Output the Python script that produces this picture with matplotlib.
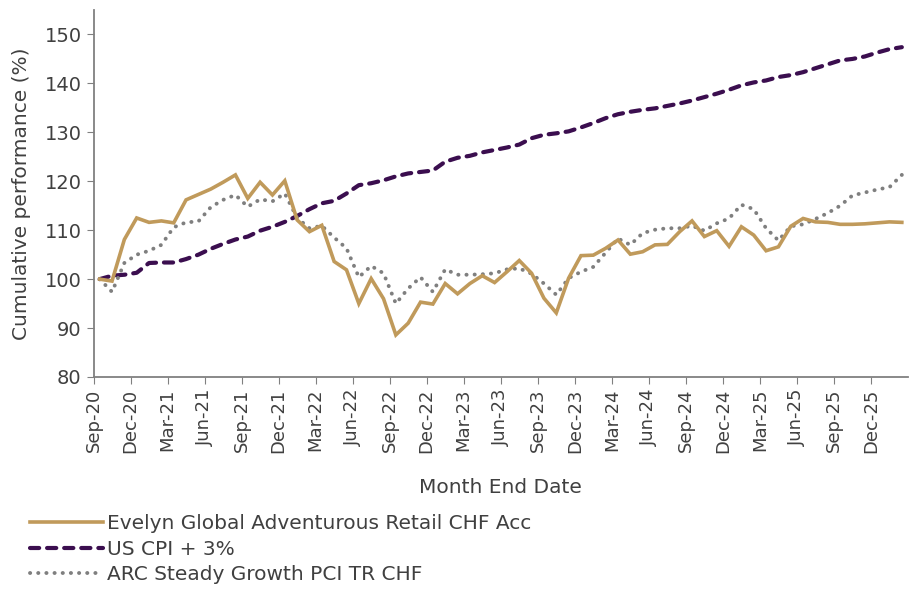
import matplotlib
matplotlib.use("Agg")
import matplotlib.pyplot as plt
import numpy as np

plt.rcParams['font.family'] = ['DejaVu Sans']

tick_labels = ["Sep-20", "Dec-20", "Mar-21", "Jun-21", "Sep-21", "Dec-21", "Mar-22",
               "Jun-22", "Sep-22", "Dec-22", "Mar-23", "Jun-23", "Sep-23", "Dec-23",
               "Mar-24", "Jun-24", "Sep-24", "Dec-24", "Mar-25", "Jun-25", "Sep-25", "Dec-25"]

evelyn = [100.0, 99.6, 108.1, 112.5, 111.6, 111.9, 111.5, 116.2, 117.3, 118.4, 119.8,
          121.3, 116.5, 119.8, 117.2, 120.1, 112.1, 109.7, 111.0, 103.6, 101.9, 95.0,
          100.1, 96.0, 88.6, 91.0, 95.3, 94.9, 99.1, 97.0, 99.1, 100.7, 99.3,
          101.5, 103.8, 101.2, 96.1, 93.1, 100.2, 104.8, 104.9, 106.3, 108.0, 105.1,
          105.6, 107.0, 107.1, 109.7, 111.9, 108.7, 109.9, 106.7, 110.7, 109.0, 105.8,
          106.6, 110.8, 112.4, 111.7, 111.6, 111.2, 111.2, 111.3, 111.5, 111.7, 111.6]

us_cpi = [100.0, 100.7, 100.9, 101.3, 103.3, 103.4, 103.4, 104.1, 105.0, 106.2, 107.2,
          108.1, 108.7, 109.9, 110.7, 111.7, 112.9, 114.3, 115.5, 116.0, 117.5, 119.2,
          119.6, 120.2, 121.0, 121.6, 121.9, 122.2, 124.0, 124.8, 125.2, 125.9, 126.4,
          126.9, 127.5, 128.8, 129.5, 129.8, 130.2, 131.0, 131.9, 132.9, 133.7, 134.2,
          134.6, 134.9, 135.4, 135.9, 136.5, 137.2, 137.9, 138.7, 139.6, 140.2, 140.6,
          141.3, 141.7, 142.3, 143.1, 143.9, 144.7, 145.0, 145.5, 146.3, 147.0, 147.4]

arc = [100.0, 97.4, 103.3, 105.0, 105.8, 107.0, 110.6, 111.6, 111.8, 114.7, 116.2,
       117.2, 114.8, 116.3, 115.9, 117.5, 112.5, 110.4, 110.9, 108.5, 106.3, 100.4,
       102.7, 101.2, 95.0, 98.1, 100.4, 97.4, 102.0, 100.9, 100.9, 101.0, 101.2,
       102.0, 102.2, 101.1, 99.1, 96.8, 100.2, 101.5, 102.5, 105.4, 108.3, 107.0,
       109.4, 110.1, 110.4, 110.4, 110.9, 109.9, 111.4, 112.4, 115.2, 114.3, 110.4,
       107.9, 110.8, 111.2, 112.3, 113.5, 115.0, 117.1, 117.7, 118.3, 118.8, 121.3]

series_names = ["Evelyn Global Adventurous Retail CHF Acc", "US CPI + 3%",
                "ARC Steady Growth PCI TR CHF"]

x = np.arange(len(evelyn)) + 0.5

fig = plt.figure(figsize=(9.16, 5.89), dpi=100)
ax = fig.add_axes([93.5 / 916, 1 - 377 / 589, (908 - 93.5) / 916, (377 - 10) / 589])

text_color = "#404040"
axis_color = "#808080"

ax.plot(x, evelyn, color="#C09A5B", lw=2.6, solid_joinstyle="miter", label=series_names[0], zorder=3)
ax.plot(x, us_cpi, color="#3B0E4F", lw=3.0, linestyle=(0, (2.2, 1.9)), dash_capstyle="round",
        label=series_names[1], zorder=2)
ax.plot(x, arc, color="#7F7F7F", lw=2.8, linestyle=(0, (0.05, 2.05)), dash_capstyle="round",
        label=series_names[2], zorder=2)

ax.set_xlim(0, len(evelyn))
ax.set_ylim(80, 155)
ax.set_yticks(np.arange(80, 151, 10))
ax.set_xticks(np.arange(0, 3 * len(tick_labels), 3))
ax.set_xticklabels(tick_labels, rotation=90, fontsize=13, color=text_color)
ax.tick_params(axis='y', labelsize=14, labelcolor=text_color, color=axis_color, length=5, direction='out')
ax.tick_params(axis='x', color=axis_color, length=5, direction='out')

for s in ["top", "right"]:
    ax.spines[s].set_visible(False)
for s in ["left", "bottom"]:
    ax.spines[s].set_color(axis_color)
    ax.spines[s].set_linewidth(1.3)

ax.set_ylabel("Cumulative performance (%)", fontsize=14.5, color=text_color, labelpad=10)
ax.set_xlabel("Month End Date", fontsize=14.5, color=text_color, labelpad=18)

leg = fig.legend(loc="upper left", bbox_to_anchor=(22 / 916, 1 - 506 / 589), frameon=False,
                 fontsize=14.5, handlelength=3.6, handletextpad=0.2, labelspacing=0.33,
                 borderaxespad=0, labelcolor=text_color)

fig.savefig("out.png", dpi=100)
